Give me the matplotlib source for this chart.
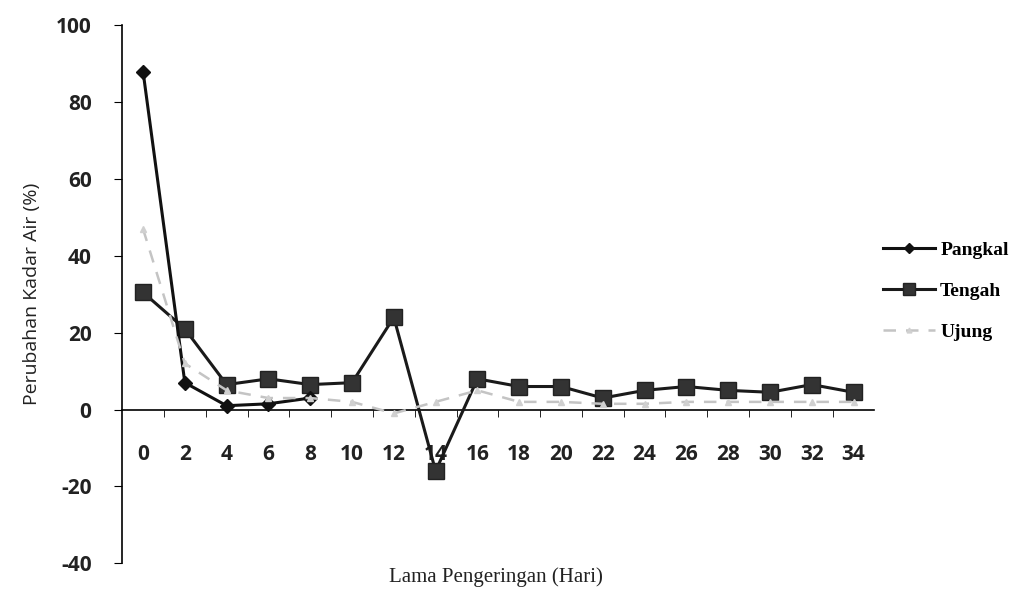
import matplotlib.pyplot as plt
import numpy as np

plt.rcParams['axes.unicode_minus'] = False

# Data
hari = [0, 2, 4, 6, 8, 10, 12, 14, 16, 18, 20, 22, 24, 26, 28, 30, 32, 34]
pangkal = [88, 7, 1, 1.5, 3, np.nan, np.nan, np.nan, np.nan, np.nan, np.nan,
           np.nan, np.nan, np.nan, np.nan, np.nan, np.nan, np.nan]
tengah = [30.5, 21, 6.5, 8, 6.5, 7, 24, -16, 8, 6, 6, 3, 5, 6, 5, 4.5, 6.5, 4.5]
ujung = [47, 12, 5, 3, 3, 2, -1, 2, 5, 2, 2, 1.5, 1.5, 2, 2, 2, 2, 2]

fig = plt.figure(figsize=(10.18, 5.91), dpi=100)
ax = fig.add_axes([0.12, 0.047, 0.739, 0.91])

# series
ax.plot(hari, tengah, color='#1a1a1a', linewidth=2.2, marker='s', markersize=12,
        markerfacecolor='#333333', markeredgecolor='#222222', label='Tengah', zorder=3)
ax.plot(hari, pangkal, color='#111111', linewidth=2.2, marker='D', markersize=7,
        label='Pangkal', zorder=4)
ax.plot(hari, ujung, color='#c4c4c4', linewidth=1.8, linestyle=(0, (5, 4)), marker='^',
        markersize=5, markerfacecolor='#d0d0d0', markeredgecolor='#d0d0d0',
        label='Ujung', zorder=5)

# axes like the Excel chart
ax.set_xlim(-1, 35)
ax.set_ylim(-40, 100)
ax.spines['top'].set_visible(False)
ax.spines['right'].set_visible(False)
ax.spines['bottom'].set_position(('data', 0))
ax.spines['left'].set_linewidth(1.2)
ax.spines['bottom'].set_linewidth(1.2)

ax.set_yticks(range(-40, 101, 20))
ax.set_xticks(hari)
ax.set_xticks(np.arange(1, 35, 2), minor=True)
ax.tick_params(axis='x', which='major', length=0, pad=25)
ax.tick_params(axis='x', which='minor', length=5, direction='out')
ax.tick_params(axis='y', length=6, direction='out', pad=16)
for lab in ax.get_xticklabels() + ax.get_yticklabels():
    lab.set_fontsize(15)
    lab.set_fontweight('bold')
    lab.set_family('Open Sans')
    lab.set_color('#222222')

ax.set_ylabel('Perubahan Kadar Air (%)', fontsize=14, family='Open Sans', color='#222222')
ax.yaxis.set_label_coords(-0.108, 0.5)
fig.text(0.487, 0.023, 'Lama Pengeringan (Hari)', fontsize=15, family='Liberation Serif',
         ha='center', va='center', color='#222222')

# legend on the right
handles, labels = ax.get_legend_handles_labels()
order = [1, 0, 2]
leg = fig.legend([handles[i] for i in order], [labels[i] for i in order],
                 loc='center left', bbox_to_anchor=(0.850, 0.508), frameon=False,
                 handlelength=2.7, handletextpad=0.25, labelspacing=1.2,
                 prop={'family': 'Liberation Serif', 'size': 14, 'weight': 'bold'},
                 markerscale=0.7)

fig.savefig('out.png', dpi=100)
